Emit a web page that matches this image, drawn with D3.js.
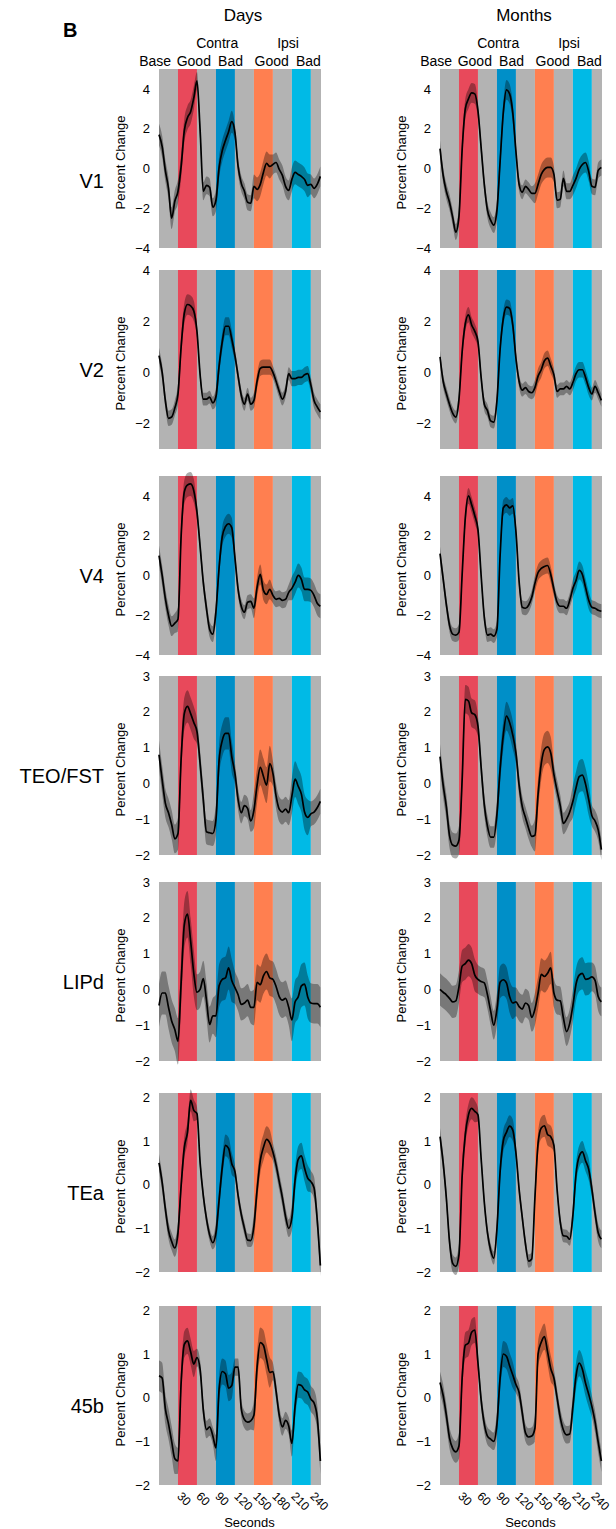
<!DOCTYPE html>
<html>
<head>
<meta charset="utf-8">
<script src="https://cdn.jsdelivr.net/npm/d3@7"></script>
<style>
  body { margin: 0; background: #fff; }
  svg { display: block; font-family: "Liberation Sans", Arial, sans-serif; }
</style>
</head>
<body>
<svg id="chart" width="616" height="1529"></svg>
<script>
// sample times in seconds, one every 5 s
const seconds = d3.range(0, 256, 5);
const timeDomain = [0, 256];
const xTicks = [30, 60, 90, 120, 150, 180, 210, 240];

// 30 s blocks of the run
const blockStarts = [0, 30, 60, 90, 120, 150, 180, 210, 240];
const blockConds = ['base', 'contraGood', 'base', 'contraBad', 'base', 'ipsiGood', 'base', 'ipsiBad', 'base'];

const regions = ['V1', 'V2', 'V4', 'TEO/FST', 'LIPd', 'TEa', '45b'];
const yLimits = [[-4, 5], [-3, 4], [-4, 5], [-2, 3], [-2, 3], [-2, 2.1], [-2, 2.1]];
const yTicks = [
  [-4, -2, 0, 2, 4], [-2, 0, 2, 4], [-4, -2, 0, 2, 4],
  [-2, -1, 0, 1, 2, 3], [-2, -1, 0, 1, 2, 3], [-2, -1, 0, 1, 2], [-2, -1, 0, 1, 2]
];

// mean percent change, one value per sample time
const v1Days = [1.7, 1.1, -0.1, -1.0, -2.5, -1.65, -1.15, 0.1, 1.9, 2.55, 2.85, 3.55, 4.4, 1.9, -1.15, -0.85, -0.95, -1.95, -1.6, 0.05, 0.9, 1.4, 1.85, 2.35, 1.8, 0.1, -0.75, -1.15, -1.7, -1.75, -0.9, -1.05, -0.8, -0.2, 0.25, 0.1, 0.2, 0.3, -0.05, -0.35, -0.9, -1.1, -0.55, -0.2, -0.3, -0.4, -0.55, -0.85, -0.8, -1.0, -0.8, -0.4];
const v1Months = [1.0, -0.35, -1.15, -1.7, -2.45, -3.2, -2.4, 0.95, 3.0, 3.5, 3.8, 3.75, 2.9, 1.05, -0.8, -2.1, -2.6, -2.85, -2.1, 0.35, 2.8, 3.95, 3.75, 2.8, 0.85, -0.8, -1.2, -0.9, -1.05, -1.25, -1.25, -0.8, -0.3, -0.05, 0.05, 0.05, -0.3, -1.6, -1.55, -0.5, -1.15, -1.15, -0.85, -0.5, -0.05, 0.2, 0.3, -0.15, -0.9, -0.95, -0.1, 0.05];
const v2Days = [0.65, 0.0, -1.1, -1.8, -1.75, -1.4, -0.85, 1.0, 2.3, 2.65, 2.6, 2.4, 1.6, -0.1, -1.05, -1.05, -0.97, -1.2, -0.95, 0.25, 1.2, 1.8, 1.8, 1.3, 0.65, -0.15, -0.9, -1.25, -0.85, -1.25, -1.1, -0.35, 0.15, 0.2, 0.2, 0.2, 0.0, -0.35, -0.75, -1.05, -0.75, -0.05, -0.25, -0.25, -0.2, -0.2, -0.1, -0.05, -0.5, -1.1, -1.35, -1.55];
const v2Months = [0.6, -0.35, -0.83, -1.25, -1.6, -1.75, -1.05, 0.8, 1.9, 2.25, 1.85, 1.6, 1.2, -0.2, -1.25, -1.5, -1.9, -1.95, -1.1, 0.9, 2.1, 2.55, 2.5, 1.85, 0.55, -0.35, -0.7, -0.6, -0.75, -0.8, -0.6, -0.15, 0.1, 0.45, 0.55, 0.25, -0.1, -0.75, -0.65, -0.65, -0.55, -0.65, -0.4, -0.05, 0.1, 0.1, -0.2, -0.6, -0.85, -0.55, -0.8, -1.1];
const v4Days = [1.0, 0.0, -1.15, -2.0, -2.55, -2.4, -2.2, 2.0, 4.2, 4.55, 4.6, 4.25, 3.2, 1.45, -0.35, -1.65, -2.7, -2.95, -1.8, 0.4, 1.95, 2.45, 2.6, 2.4, 0.9, -0.7, -1.55, -1.85, -1.35, -1.3, -1.65, -0.6, 0.05, -0.75, -0.95, -0.7, -1.0, -1.2, -1.15, -1.25, -1.2, -0.85, -0.65, -0.35, 0.0, -0.2, -0.7, -0.7, -0.75, -1.0, -1.4, -1.55];
const v4Months = [1.1, -0.17, -1.45, -2.5, -2.95, -3.0, -2.85, 0.05, 2.9, 4.0, 3.55, 3.0, 2.3, 0.0, -2.1, -3.0, -2.95, -3.05, -2.7, 1.0, 3.4, 3.55, 3.4, 3.5, 2.2, -0.3, -1.6, -1.65, -1.5, -1.1, -0.4, 0.15, 0.35, 0.45, 0.5, 0.05, -0.7, -1.35, -1.55, -1.55, -1.65, -1.25, -0.65, -0.25, 0.25, 0.05, -0.6, -1.25, -1.6, -1.65, -1.75, -1.8];
const teoDays = [0.8, 0.1, -0.55, -0.82, -1.15, -1.55, -1.4, 0.7, 1.95, 2.15, 1.95, 1.7, 1.45, 0.55, -0.45, -1.35, -1.38, -1.4, -1.0, 0.65, 1.2, 1.4, 1.4, 0.75, 0.28, -0.45, -0.82, -0.62, -0.7, -1.05, -0.75, -0.05, 0.45, 0.2, -0.05, 0.55, 0.28, -0.35, -0.72, -0.8, -0.72, -0.82, -0.35, 0.12, -0.08, -0.3, -0.8, -0.95, -0.85, -0.8, -0.68, -0.5];
const teoMonths = [0.75, -0.05, -0.65, -1.45, -1.72, -1.75, -1.58, 0.1, 2.35, 2.3, 1.97, 1.92, 1.6, 0.45, -0.6, -1.2, -1.5, -1.5, -0.85, 0.4, 1.35, 1.88, 1.7, 1.35, 0.85, -0.05, -0.65, -0.95, -1.25, -1.48, -1.45, -0.3, 0.55, 0.95, 1.02, 0.85, 0.25, -0.2, -0.62, -1.12, -1.0, -0.8, -0.5, -0.12, 0.19, 0.23, -0.02, -0.45, -0.9, -1.05, -1.3, -1.85];
const lipdDays = [-0.45, -0.1, -0.1, -0.5, -0.88, -1.12, -1.45, 0.2, 1.8, 2.1, 1.35, 0.45, -0.08, 0.0, 0.3, -0.3, -0.98, -0.74, -0.74, 0.1, 0.28, 0.32, 0.6, 0.25, 0.05, -0.15, -0.42, -0.38, -0.3, -0.5, -0.5, 0.2, 0.13, 0.38, 0.5, 0.32, 0.28, 0.08, -0.2, -0.3, -0.25, -0.5, -0.85, -0.35, -0.21, 0.1, 0.15, -0.21, -0.38, -0.4, -0.4, -0.5];
const lipdMonths = [0.0, -0.08, -0.15, -0.25, -0.35, -0.32, 0.08, 0.65, 0.72, 0.82, 0.72, 0.4, 0.28, 0.22, 0.18, -0.15, -0.6, -1.0, -0.55, 0.2, 0.27, 0.18, -0.2, -0.38, -0.35, -0.48, -0.55, -0.38, -0.45, -0.78, -0.55, -0.1, 0.42, 0.36, 0.45, 0.6, -0.1, -0.3, -0.32, -0.8, -1.18, -0.95, -0.45, 0.15, 0.4, 0.45, 0.28, 0.3, 0.35, 0.25, -0.2, -0.35];
const teaDays = [0.5, 0.05, -0.55, -1.05, -1.3, -1.45, -1.1, -0.02, 0.85, 1.2, 1.93, 1.7, 1.63, 0.5, -0.25, -0.78, -1.15, -1.33, -1.1, -0.35, 0.4, 0.9, 0.83, 0.48, 0.3, -0.25, -0.68, -1.0, -1.27, -1.28, -0.95, -0.12, 0.55, 0.85, 1.04, 0.96, 0.75, 0.45, 0.07, -0.3, -0.73, -1.0, -0.75, 0.1, 0.58, 0.66, 0.38, 0.15, 0.07, -0.07, -0.8, -1.85];
const teaMonths = [1.1, 0.5, -0.3, -1.3, -1.8, -1.87, -1.6, 0.2, 1.15, 1.6, 1.75, 1.68, 1.6, 0.6, -0.4, -1.1, -1.5, -1.68, -1.0, 0.3, 1.0, 1.2, 1.34, 1.25, 0.73, -0.1, -0.75, -1.35, -1.75, -1.7, -0.3, 0.95, 1.3, 1.35, 1.15, 1.1, 0.9, -0.1, -0.85, -1.17, -1.18, -1.25, -0.7, 0.25, 0.65, 0.75, 0.55, 0.35, -0.1, -0.65, -1.1, -1.25];
const b45Days = [0.5, 0.45, -0.25, -0.6, -1.0, -1.4, -1.45, 0.35, 1.22, 1.3, 1.05, 0.77, 0.92, 0.65, -0.28, -0.73, -0.67, -0.87, -1.15, 0.2, 0.6, 0.55, 0.22, 0.28, 0.7, 0.7, -0.25, -0.5, -0.56, -0.53, -0.4, 0.7, 1.26, 1.2, 0.88, 0.58, 0.6, 0.15, -0.4, -0.67, -0.52, -0.65, -1.05, -0.2, 0.3, 0.28, 0.18, 0.13, -0.03, -0.12, -0.45, -1.45];
const b45Months = [0.35, 0.05, -0.4, -0.92, -1.16, -1.24, -1.1, 0.45, 1.2, 1.25, 1.5, 1.55, 0.8, -0.05, -0.6, -0.88, -0.95, -1.0, -0.6, 0.45, 1.0, 0.95, 0.73, 0.52, 0.3, 0.12, -0.35, -0.8, -0.9, -0.88, -0.7, 1.0, 1.27, 1.4, 1.05, 0.67, 0.45, 0.0, -0.45, -0.74, -0.85, -0.83, -0.2, 0.5, 0.79, 0.65, 0.33, 0.08, -0.2, -0.55, -1.02, -1.45];

// standard error, one value per 30 s block
const v1DaysErr = [0.55, 0.6, 0.45, 0.55, 0.4, 0.6, 0.5, 0.6, 0.5];
const v1MonthsErr = [0.4, 0.5, 0.4, 0.5, 0.35, 0.5, 0.4, 0.5, 0.4];
const v2DaysErr = [0.3, 0.4, 0.25, 0.35, 0.25, 0.3, 0.25, 0.3, 0.3];
const v2MonthsErr = [0.25, 0.3, 0.25, 0.3, 0.25, 0.3, 0.25, 0.3, 0.25];
const v4DaysErr = [0.5, 0.6, 0.4, 0.5, 0.35, 0.5, 0.4, 0.6, 0.6];
const v4MonthsErr = [0.35, 0.4, 0.35, 0.4, 0.35, 0.4, 0.35, 0.45, 0.35];
const teoDaysErr = [0.4, 0.45, 0.35, 0.45, 0.3, 0.5, 0.35, 0.5, 0.35];
const teoMonthsErr = [0.35, 0.4, 0.3, 0.4, 0.3, 0.45, 0.3, 0.45, 0.3];
const lipdDaysErr = [0.6, 0.65, 0.5, 0.6, 0.45, 0.5, 0.5, 0.6, 0.55];
const lipdMonthsErr = [0.45, 0.45, 0.4, 0.45, 0.4, 0.45, 0.4, 0.45, 0.4];
const teaDaysErr = [0.2, 0.25, 0.15, 0.25, 0.15, 0.3, 0.2, 0.3, 0.25];
const teaMonthsErr = [0.2, 0.25, 0.15, 0.25, 0.15, 0.25, 0.15, 0.25, 0.2];
const b45DaysErr = [0.35, 0.3, 0.2, 0.3, 0.2, 0.35, 0.2, 0.3, 0.3];
const b45MonthsErr = [0.25, 0.3, 0.2, 0.3, 0.2, 0.3, 0.2, 0.3, 0.25];

const means = [[v1Days, v1Months], [v2Days, v2Months], [v4Days, v4Months], [teoDays, teoMonths],
  [lipdDays, lipdMonths], [teaDays, teaMonths], [b45Days, b45Months]];
const errs = [[v1DaysErr, v1MonthsErr], [v2DaysErr, v2MonthsErr], [v4DaysErr, v4MonthsErr], [teoDaysErr, teoMonthsErr],
  [lipdDaysErr, lipdMonthsErr], [teaDaysErr, teaMonthsErr], [b45DaysErr, b45MonthsErr]];

const columns = ['Days', 'Months'];
const condLabels = ['Base', 'Good', 'Bad', 'Good', 'Bad'];
const condLabelAt = [-6, 55, 113, 178, 236];   // seconds
const groupLabels = ['Contra', 'Ipsi'];
const groupLabelAt = [92, 204];

// layout
const colX = [159, 440];
const panelW = 162, panelH = 179;
const panelTop = [69, 270, 476, 676, 882, 1093, 1306];
const blockFill = { base: '#b3b3b3', contraGood: '#e8495b', contraBad: '#008fc8', ipsiGood: '#ff7f50', ipsiBad: '#00bae6' };
const font = '"Liberation Sans", Arial, sans-serif';

const svg = d3.select('#chart');

svg.append('text').attr('x', 63).attr('y', 37)
  .attr('font-size', 20).attr('font-weight', 'bold').text('B');

columns.forEach((name, c) => {
  const x = d3.scaleLinear().domain(timeDomain).range([colX[c], colX[c] + panelW]);
  svg.append('text').attr('x', x(128) + 3).attr('y', 21)
    .attr('text-anchor', 'middle').attr('font-size', 17).text(name);
  svg.selectAll(null).data(groupLabels).join('text')
    .attr('x', (d, i) => x(groupLabelAt[i])).attr('y', 48)
    .attr('text-anchor', 'middle').attr('font-size', 14).text(d => d);
  svg.selectAll(null).data(condLabels).join('text')
    .attr('x', (d, i) => x(condLabelAt[i])).attr('y', 66)
    .attr('text-anchor', 'middle').attr('font-size', 14).text(d => d);
});

regions.forEach((reg, r) => {
  const top = panelTop[r];
  const y = d3.scaleLinear().domain(yLimits[r]).range([top + panelH, top]);

  svg.append('text').attr('x', 104).attr('y', top + panelH / 2 + (r === 0 ? 22 : 10) + 7)
    .attr('text-anchor', 'end').attr('font-size', 20).text(reg);

  columns.forEach((col, c) => {
    const x = d3.scaleLinear().domain(timeDomain).range([colX[c], colX[c] + panelW]);
    const g = svg.append('g');

    // stimulus blocks
    g.selectAll('rect').data(blockStarts).join('rect')
      .attr('x', d => x(d))
      .attr('width', d => x(Math.min(d + 30, timeDomain[1])) - x(d))
      .attr('y', top).attr('height', panelH)
      .attr('fill', (d, i) => blockFill[blockConds[i]]);

    const pts = means[r][c].map((v, i) => ({
      t: seconds[i], v: v, e: errs[r][c][Math.min(8, Math.floor(seconds[i] / 30))]
    }));

    g.append('path').datum(pts)
      .attr('fill', '#000').attr('fill-opacity', 0.33)
      .attr('d', d3.area().x(d => x(d.t)).y0(d => y(d.v - d.e)).y1(d => y(d.v + d.e))
        .curve(d3.curveMonotoneX));

    g.append('path').datum(pts)
      .attr('fill', 'none').attr('stroke', '#000').attr('stroke-width', 1.7)
      .attr('stroke-linejoin', 'round')
      .attr('d', d3.line().x(d => x(d.t)).y(d => y(d.v)).curve(d3.curveMonotoneX));

    // y axis
    const ya = g.append('g').attr('transform', `translate(${colX[c]},0)`)
      .call(d3.axisLeft(y).tickValues(yTicks[r]).tickFormat(d3.format('d'))
        .tickSize(0).tickPadding(9));
    ya.select('.domain').remove();
    ya.attr('font-size', 13).attr('font-family', font);

    g.append('text')
      .attr('transform', `translate(${colX[c] - 34},${top + panelH / 2 + 4}) rotate(-90)`)
      .attr('text-anchor', 'middle').attr('font-size', 13).text('Percent Change');

    if (r === regions.length - 1) {
      const xa = g.append('g').attr('transform', `translate(0,${top + panelH})`)
        .call(d3.axisBottom(x).tickValues(xTicks).tickSize(0).tickPadding(0));
      xa.select('.domain').remove();
      xa.attr('font-size', 12).attr('font-family', font);
      xa.selectAll('text')
        .attr('x', 0).attr('y', 0).attr('dy', '0.35em')
        .attr('text-anchor', 'start')
        .attr('transform', 'translate(1,9) rotate(45)');
      g.append('text').attr('x', x(143)).attr('y', top + panelH + 42)
        .attr('text-anchor', 'middle').attr('font-size', 13).text('Seconds');
    }
  });
});
</script>
</body>
</html>
